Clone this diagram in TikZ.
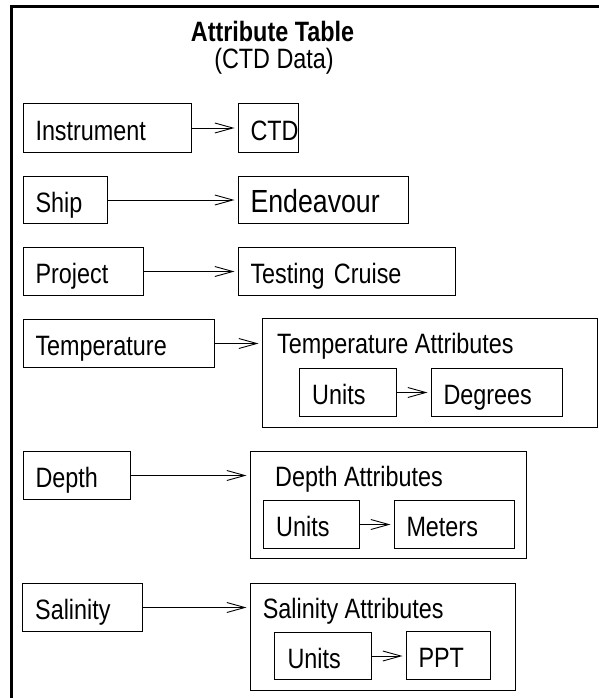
\documentclass[tikz,border=0pt]{standalone}
\usepackage{fontspec}
\setmainfont{Liberation Sans}[FakeStretch=0.835]
\usetikzlibrary{arrows.meta}
\newcommand\mybox[7]{%
  \pgfmathsetmacro\bxw{#4-#2-2*#6}%
  \pgfmathsetmacro\bxh{#5-#3}%
  \node[bx, minimum height=\bxh pt, text width=\bxw pt, inner xsep=#6pt] (#1) at (#2,#3) {#7};}
\begin{document}
\begin{tikzpicture}[x=1pt,y=-1pt,
  txt/.style={font=\fontsize{28}{32}\selectfont},
  bx/.style={draw, line width=1pt, anchor=north west, align=left, inner ysep=0pt,
    text height=24.4pt, text depth=0pt, txt},
  cont/.style={draw, line width=1pt, anchor=north west, inner sep=0pt},
  hdr/.style={anchor=base west, inner sep=0pt, txt},
  arr/.style={line width=0.9pt, -{Straight Barb[length=18pt,width=10pt,line width=0.9pt]}, shorten >=3.5pt},
  frame/.style={line width=3pt}]
\useasboundingbox (0,0) rectangle (599,698);
\draw[frame] (11,700) -- (11,6.5) -- (601,6.5);

\node[anchor=base, inner sep=0pt, font=\fontsize{28}{32}\selectfont\bfseries] (title) at (272.5,41.7) {Attribute Table};
\node[anchor=base, inner sep=0pt, txt] (subtitle) at (274,68.3) {(CTD Data)};

% row 1
\mybox{instr}{22.7}{103}{191}{152}{12.3}{Instrument}
\mybox{ctd}{238}{103}{298}{152}{12}{CTD}
% row 2
\mybox{ship}{22.7}{176}{107}{223}{12.3}{Ship}
\node[bx, minimum height=47pt, text width=146pt, inner xsep=12pt, text height=25pt, font=\fontsize{32}{36}\selectfont] (endv) at (238,176) {Endeavour};
% row 3
\mybox{proj}{22.7}{247}{143}{295}{12.3}{Project}
\mybox{test}{238}{247}{455}{295}{12}{Testing Cruise}
% row 4
\mybox{temp}{22.7}{319}{213.7}{367}{12.3}{Temperature}
\node[cont, minimum width=335pt, minimum height=109pt] (tattr) at (262,318) {};
\node[hdr] (tattrh) at (277,353.3) {Temperature Attributes};
\mybox{tunits}{299}{368}{396}{416}{12.7}{Units}
\mybox{tdeg}{431}{368}{562}{415.5}{12}{Degrees}
% row 5
\mybox{depth}{22.7}{451}{130}{499}{12.3}{Depth}
\node[cont, minimum width=275.7pt, minimum height=107.3pt] (dattr) at (250,451) {};
\node[hdr] (dattrh) at (275,486.5) {Depth Attributes};
\mybox{dunits}{263}{500}{358.5}{548}{12.7}{Units}
\mybox{dmet}{394}{499.5}{514}{547.5}{12}{Meters}
% row 6
\mybox{sal}{22.4}{583}{142}{631}{12.3}{Salinity}
\node[cont, minimum width=265pt, minimum height=107pt] (sattr) at (250,583) {};
\node[hdr] (sattrh) at (262.7,618.3) {Salinity Attributes};
\mybox{sunits}{274.3}{631.7}{371}{679.3}{12.7}{Units}
\mybox{sppt}{406}{631.2}{490}{678.8}{12}{PPT}

% connectors
\draw[arr] (instr.east) -- (ctd.west);
\draw[arr] (ship.east) -- (endv.west);
\draw[arr] (proj.east) -- (test.west);
\draw[arr] (temp.east) -- (temp.east -| tattr.west);
\draw[arr] (tunits.east) -- (tunits.east -| tdeg.west);
\draw[arr] (depth.east) -- (depth.east -| dattr.west);
\draw[arr] (dunits.east) -- (dunits.east -| dmet.west);
\draw[arr] (sal.east) -- (sal.east -| sattr.west);
\draw[arr] (sunits.east) -- (sunits.east -| sppt.west);
\end{tikzpicture}
\end{document}
